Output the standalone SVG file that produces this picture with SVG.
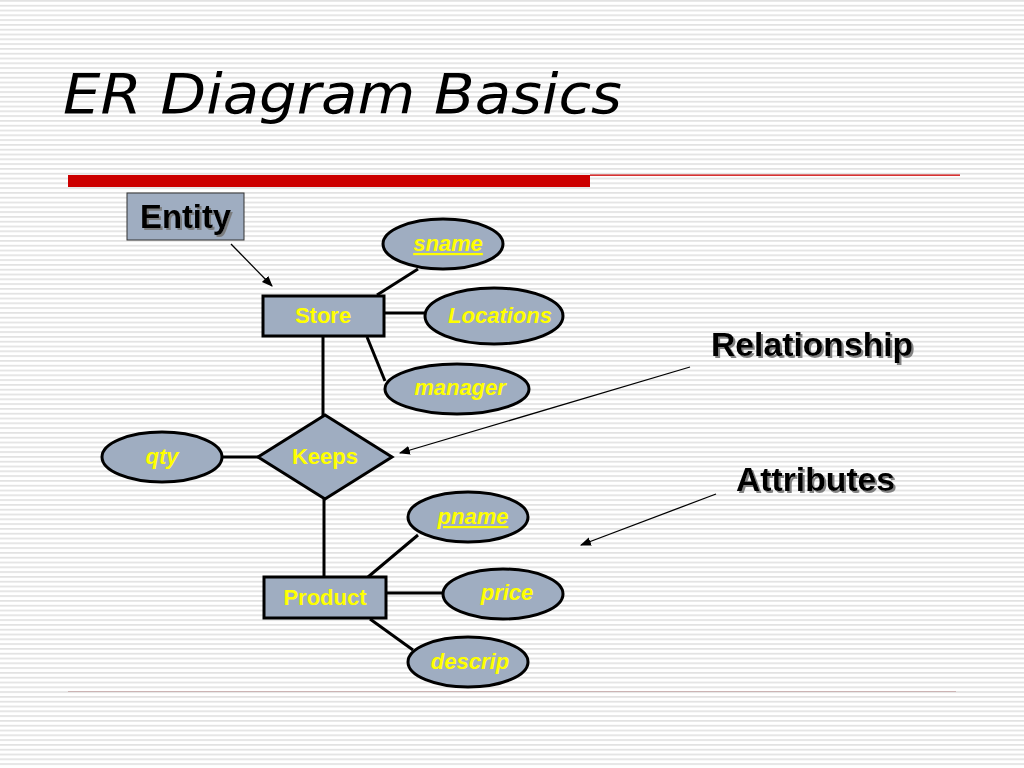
<svg xmlns="http://www.w3.org/2000/svg" width="1024" height="768" viewBox="0 0 1024 768">
<defs>
<pattern id="stripes" x="0" y="0" width="8" height="4.8" patternUnits="userSpaceOnUse">
<rect x="0" y="0" width="8" height="1.7" fill="#e2e2e2"/>
</pattern>
<marker id="arrow" viewBox="0 0 10 10" refX="9" refY="5" markerWidth="11" markerHeight="11" markerUnits="userSpaceOnUse" orient="auto">
<path d="M0,1 L10,5 L0,9 Z" fill="#000"/>
</marker>
<filter id="shadow" x="-10%" y="-20%" width="130%" height="150%">
<feDropShadow dx="2" dy="2" stdDeviation="0.6" flood-color="#777" flood-opacity="0.9"/>
</filter>
<style>
.node { fill: #9fadc1; stroke: #000; stroke-width: 3; }
.lbl { font-family: "Liberation Sans", Arial, sans-serif; font-size: 22px; font-weight: bold; fill: #ffff00; text-anchor: middle; }
.attr { font-style: italic; }
.key { text-decoration: underline; }
.edge { stroke: #000; stroke-width: 3; fill: none; }
.ptr { stroke: #000; stroke-width: 1.3; fill: none; marker-end: url(#arrow); }
.callout { font-family: "Liberation Sans", Arial, sans-serif; font-size: 33.7px; font-weight: bold; fill: #000; filter: url(#shadow); }
</style>
</defs>
<rect x="0" y="0" width="1024" height="768" fill="#ffffff"/>
<rect x="0" y="0" width="1024" height="768" fill="url(#stripes)"/>

<text x="63" y="113" font-family="DejaVu Sans, Verdana, sans-serif" font-style="italic" font-size="56" fill="#000" textLength="559" lengthAdjust="spacingAndGlyphs">ER Diagram Basics</text>
<rect x="68" y="175" width="522" height="12" fill="#cc0000"/>
<rect x="590" y="174.5" width="370" height="1.3" fill="#cc0000"/>
<rect x="68" y="691" width="888" height="1" fill="#ccb4b4"/>

<g id="connectors">
<line class="edge" x1="377" y1="295" x2="418" y2="269"/>
<line class="edge" x1="384" y1="313" x2="426" y2="313"/>
<line class="edge" x1="367" y1="337" x2="385" y2="381"/>
<line class="edge" x1="323" y1="337" x2="323" y2="416"/>
<line class="edge" x1="222" y1="457" x2="258" y2="457"/>
<line class="edge" x1="324" y1="499" x2="324" y2="577"/>
<line class="edge" x1="368" y1="577" x2="418" y2="535"/>
<line class="edge" x1="387" y1="593" x2="443" y2="593"/>
<line class="edge" x1="370" y1="619" x2="413" y2="650"/>
<line class="ptr" x1="231" y1="244" x2="272" y2="286"/>
<line class="ptr" x1="690" y1="367" x2="400" y2="453"/>
<line class="ptr" x1="716" y1="494" x2="581" y2="545"/>
</g>

<g id="entity-callout">
<rect x="127" y="193" width="117" height="47" fill="#9fadc1" stroke="#333" stroke-width="1"/>
<text class="callout" x="140" y="228" style="font-size:32.8px">Entity</text>
</g>
<g id="relationship-callout">
<text class="callout" x="711" y="356">Relationship</text>
</g>
<g id="attributes-callout">
<text class="callout" x="736" y="491">Attributes</text>
</g>

<g id="store">
<rect class="node" x="263" y="296" width="121" height="40"/>
<text class="lbl" x="323" y="323">Store</text>
</g>
<g id="sname">
<ellipse class="node" cx="443" cy="244" rx="60" ry="25"/>
<text class="lbl attr key" x="448" y="251">sname</text>
</g>
<g id="locations">
<ellipse class="node" cx="494" cy="316" rx="69" ry="28"/>
<text class="lbl attr" x="500" y="323">Locations</text>
</g>
<g id="manager">
<ellipse class="node" cx="457" cy="389" rx="72" ry="25"/>
<text class="lbl attr" x="460" y="395">manager</text>
</g>
<g id="keeps">
<polygon class="node" points="325,415 392,457 325,499 258,457"/>
<text class="lbl" x="325" y="464">Keeps</text>
</g>
<g id="qty">
<ellipse class="node" cx="162" cy="457" rx="60" ry="25"/>
<text class="lbl attr" x="162" y="464">qty</text>
</g>
<g id="product">
<rect class="node" x="264" y="577" width="122" height="41"/>
<text class="lbl" x="325" y="605">Product</text>
</g>
<g id="pname">
<ellipse class="node" cx="468" cy="517" rx="60" ry="25"/>
<text class="lbl attr key" x="473" y="524">pname</text>
</g>
<g id="price">
<ellipse class="node" cx="503" cy="594" rx="60" ry="25"/>
<text class="lbl attr" x="507" y="600">price</text>
</g>
<g id="descrip">
<ellipse class="node" cx="468" cy="662" rx="60" ry="25"/>
<text class="lbl attr" x="470" y="669">descrip</text>
</g>
</svg>
